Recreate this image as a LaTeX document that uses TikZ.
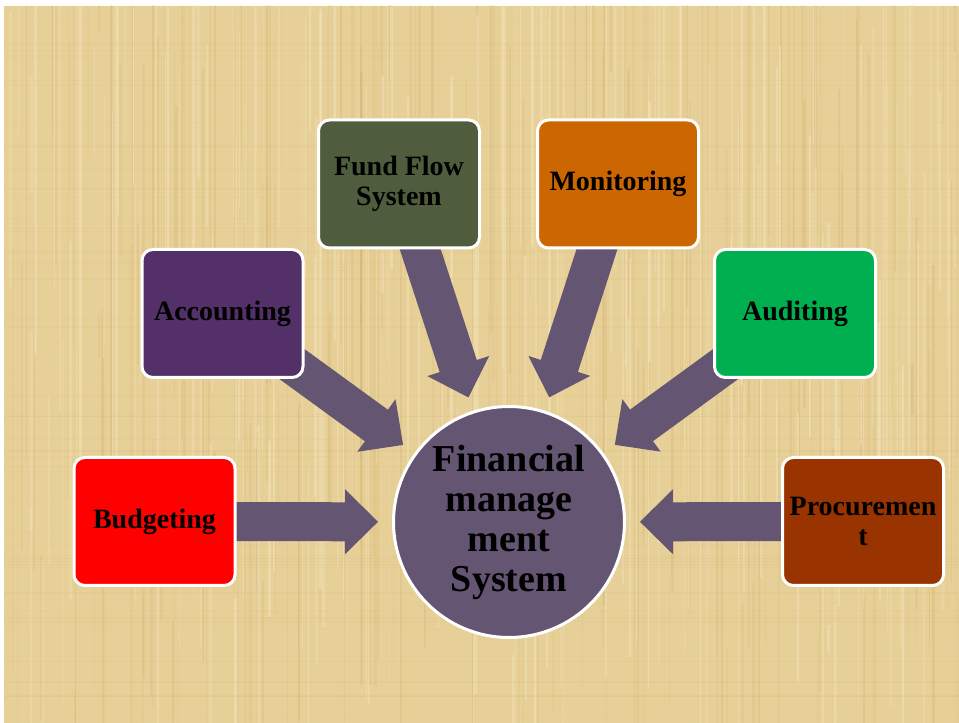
\documentclass[tikz,border=0pt]{standalone}
\usepackage{fontspec}
\setmainfont{Liberation Serif}
\usetikzlibrary{calc,backgrounds}

\definecolor{parchment}{HTML}{E7D098}
\definecolor{streakdark}{HTML}{C9A55E}
\definecolor{streaklight}{HTML}{F7EBC8}
\definecolor{arrowcolor}{HTML}{645573}
\definecolor{budgetred}{HTML}{FF0000}
\definecolor{accountpurple}{HTML}{533168}
\definecolor{fundgreen}{HTML}{4F5D3E}
\definecolor{monitororange}{HTML}{CC6600}
\definecolor{auditgreen}{HTML}{00B050}
\definecolor{procurebrown}{HTML}{993300}

\tikzset{
  box/.style = {draw = white, line width = 3pt, rounded corners = 11pt,
    minimum width = 161pt, minimum height = 128pt, align = center,
    inner sep = 2pt, font = \fontsize{28}{30}\selectfont\bfseries},
  hub/.style = {circle, draw = white, line width = 3pt, fill = arrowcolor,
    minimum size = 231pt, align = center, inner sep = 0pt,
    font = \fontsize{38}{40}\selectfont\bfseries}
}

% fat arrow from a box towards the hub, stopping short of the circle
\newcommand{\feedarrow}[1]{%
  \coordinate (tip) at ($(fms)!131pt!(#1)$);
  \coordinate (base) at ($(fms)!164pt!(#1)$);
  \fill [arrowcolor] ($(#1)!19.5pt!90:(fms)$) -- ($(base)!19.5pt!90:(fms)$)
    -- ($(base)!32.5pt!90:(fms)$) -- (tip) -- ($(base)!32.5pt!-90:(fms)$)
    -- ($(base)!19.5pt!-90:(fms)$) -- ($(#1)!19.5pt!-90:(fms)$) -- cycle;
}

\begin{document}
\begin{tikzpicture}[x = 1pt, y = 1pt]

  \useasboundingbox (0, 0) rectangle (959, 723);

  % hub
  \node [hub] (fms) at (509, 201) {Financial\\manage\\ment\\System};

  % the six parts
  \node [box, fill = budgetred] (budget) at (154.5, 201.5) {Budgeting};
  \node [box, fill = accountpurple] (account) at (222.5, 409.5) {Accounting};
  \node [box, fill = fundgreen] (fund) at (399, 539) {Fund Flow\\System};
  \node [box, fill = monitororange] (monitor) at (618, 539) {Monitoring};
  \node [box, fill = auditgreen] (audit) at (795, 409.5) {Auditing};
  \node [box, fill = procurebrown] (procure) at (863, 201.5) {Procuremen\\t};

  \begin{scope}[on background layer]
    % parchment
    \fill [parchment] (4, 0) rectangle (959, 717);
    \begin{scope}
      \clip (4, 0) rectangle (959, 717);
      \pgfmathsetseed{42}
      \foreach \i in {1, ..., 260} {
        \pgfmathsetmacro{\xx}{4 + 955 * rnd}
        \pgfmathsetmacro{\yy}{-100 + 700 * rnd}
        \pgfmathsetmacro{\ww}{0.6 + 2.4 * rnd}
        \pgfmathsetmacro{\hh}{120 + 500 * rnd}
        \pgfmathsetmacro{\oo}{0.06 + 0.16 * rnd}
        \fill [streakdark, opacity = \oo] (\xx, \yy) rectangle ++(\ww, \hh);
      }
      \foreach \i in {1, ..., 200} {
        \pgfmathsetmacro{\xx}{4 + 955 * rnd}
        \pgfmathsetmacro{\yy}{-100 + 700 * rnd}
        \pgfmathsetmacro{\ww}{0.6 + 2.4 * rnd}
        \pgfmathsetmacro{\hh}{120 + 500 * rnd}
        \pgfmathsetmacro{\oo}{0.15 + 0.25 * rnd}
        \fill [streaklight, opacity = \oo] (\xx, \yy) rectangle ++(\ww, \hh);
      }
      \foreach \i in {1, ..., 60} {
        \pgfmathsetmacro{\yy}{717 * rnd}
        \pgfmathsetmacro{\oo}{0.04 + 0.07 * rnd}
        \fill [streakdark, opacity = \oo] (4, \yy) rectangle ++(955, 1.2);
      }
    \end{scope}

    % arrows into the hub
    \feedarrow{budget}
    \feedarrow{account}
    \feedarrow{fund}
    \feedarrow{monitor}
    \feedarrow{audit}
    \feedarrow{procure}
  \end{scope}

\end{tikzpicture}
\end{document}
